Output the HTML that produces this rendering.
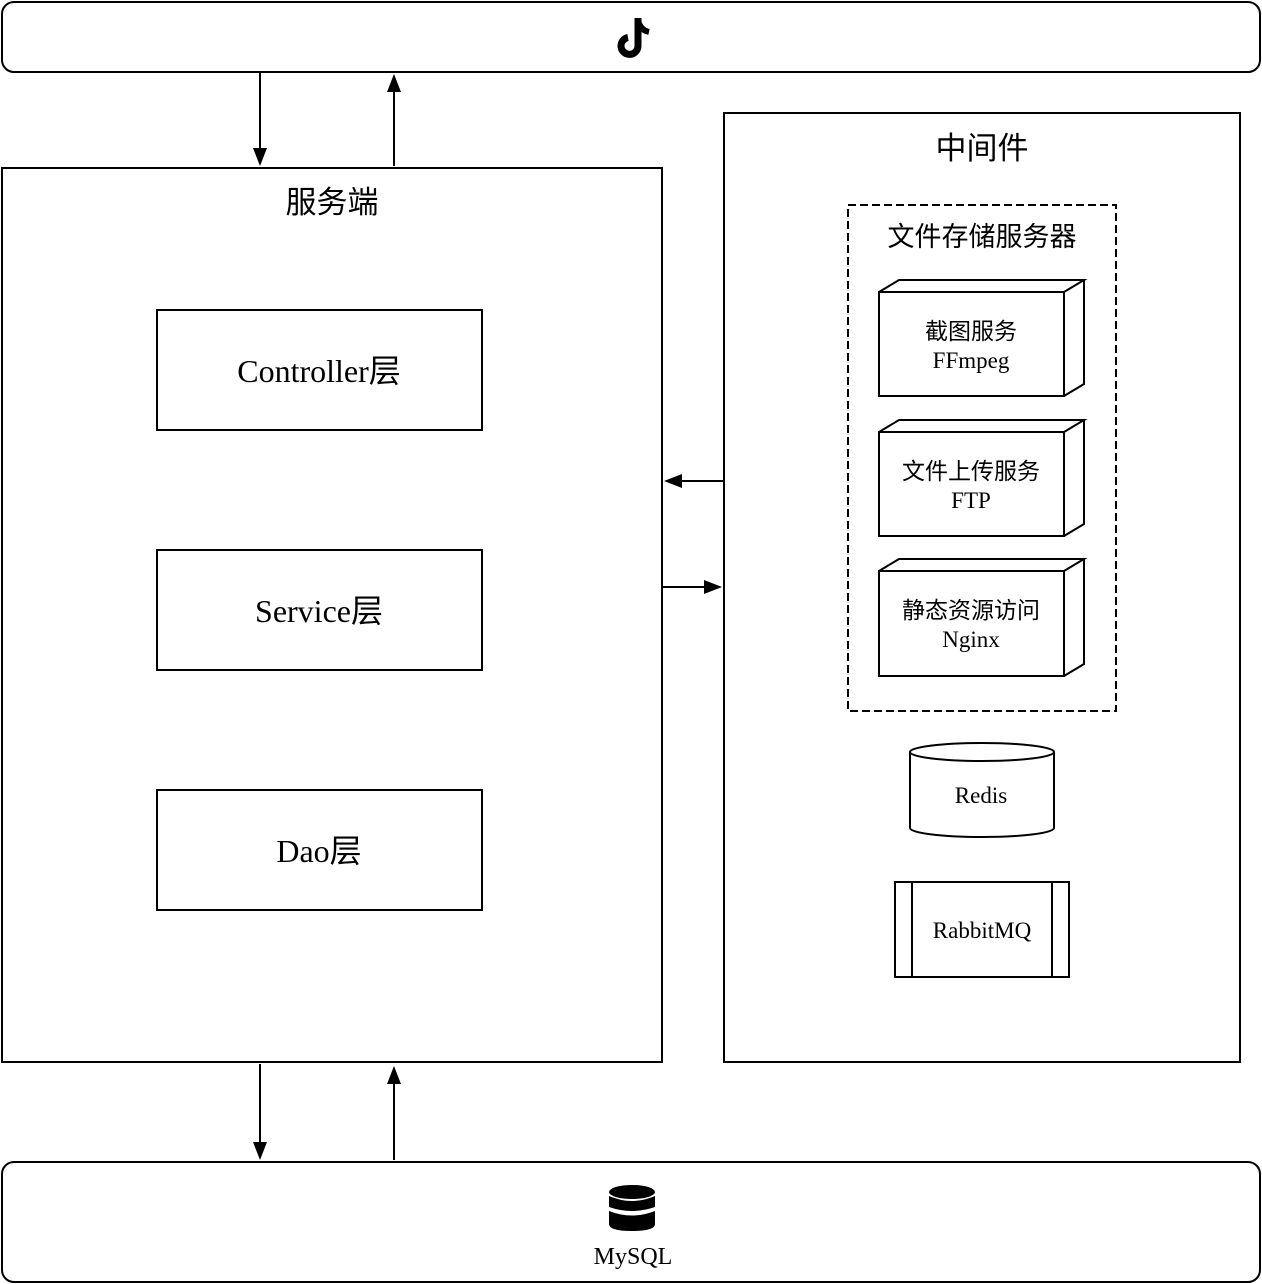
<!DOCTYPE html>
<html><head><meta charset="utf-8"><style>
html,body{margin:0;padding:0;background:#fff;}
svg{display:block;}
text{font-family:"Liberation Serif","Noto Sans CJK SC",serif;fill:#000;text-anchor:middle;}
</style></head><body>
<svg width="1262" height="1284" viewBox="0 0 1262 1284" xmlns="http://www.w3.org/2000/svg">
<g fill="none" stroke="#000" stroke-width="2">
<rect x="2" y="2" width="1258" height="70" rx="12"/>
<rect x="2" y="1162" width="1258" height="120" rx="12"/>
<rect x="2" y="168" width="660" height="894"/>
<rect x="724" y="113" width="516" height="949"/>
<rect x="157" y="310" width="325" height="120"/>
<rect x="157" y="550" width="325" height="120"/>
<rect x="157" y="790" width="325" height="120"/>
<rect x="848" y="205" width="268" height="506" stroke-dasharray="8,4"/>
<path d="M879,292 h185 v104 h-185 z M879,292 L899,280 H1084 L1064,292 M1084,280 V384 L1064,396"/>
<path d="M879,432 h185 v104 h-185 z M879,432 L899,420 H1084 L1064,432 M1084,420 V524 L1064,536"/>
<path d="M879,571 h185 v105 h-185 z M879,571 L899,559 H1084 L1064,571 M1084,559 V664 L1064,676"/>
<path d="M910,752 V828 A72,9 0 0 0 1054,828 V752"/>
<ellipse cx="982" cy="752" rx="72" ry="9"/>
<rect x="895" y="882" width="174" height="95"/>
<line x1="912" y1="882" x2="912" y2="977"/>
<line x1="1052" y1="882" x2="1052" y2="977"/>
<line x1="260" y1="72" x2="260" y2="150"/>
<line x1="394" y1="166" x2="394" y2="90"/>
<line x1="724" y1="481" x2="680" y2="481"/>
<line x1="662" y1="587" x2="706" y2="587"/>
<line x1="260" y1="1064" x2="260" y2="1144"/>
<line x1="394" y1="1160" x2="394" y2="1082"/>
</g>
<g fill="#000">
<polygon points="253,148 267,148 260,166"/>
<polygon points="387,92 401,92 394,74"/>
<polygon points="682,474 682,488 664,481"/>
<polygon points="704,580 704,594 722,587"/>
<polygon points="253,1142 267,1142 260,1160"/>
<polygon points="387,1084 401,1084 394,1066"/>
</g>
<g fill="none" stroke="#000" stroke-width="7">
<path d="M638,18 V46 A8.5,8.5 0 1 1 628,37.5"/>
<path d="M638,20 Q640,30 649,32" stroke-width="6"/>
</g>
<g fill="#000">
<ellipse cx="632" cy="1192" rx="23" ry="7"/>
<path d="M609,1196 Q632,1206 655,1196 V1207 Q632,1215 609,1207 z"/>
<path d="M609,1211 Q632,1220 655,1211 V1224 Q655,1231 632,1231 Q609,1231 609,1224 z"/>
</g>
<text x="332" y="213" font-size="31">服务端</text>
<text x="982" y="159" font-size="31">中间件</text>
<text x="982" y="246" font-size="27">文件存储服务器</text>
<text x="319" y="382" font-size="32">Controller层</text>
<text x="319" y="622" font-size="32">Service层</text>
<text x="319" y="862" font-size="32">Dao层</text>
<text x="971" y="339" font-size="23">截图服务</text>
<text x="971" y="368" font-size="23">FFmpeg</text>
<text x="971" y="479" font-size="23">文件上传服务</text>
<text x="971" y="508" font-size="23">FTP</text>
<text x="971" y="618" font-size="23">静态资源访问</text>
<text x="971" y="647" font-size="23">Nginx</text>
<text x="981" y="803" font-size="23">Redis</text>
<text x="982" y="938" font-size="23">RabbitMQ</text>
<text x="633" y="1264" font-size="24">MySQL</text>
</svg>
</body></html>
